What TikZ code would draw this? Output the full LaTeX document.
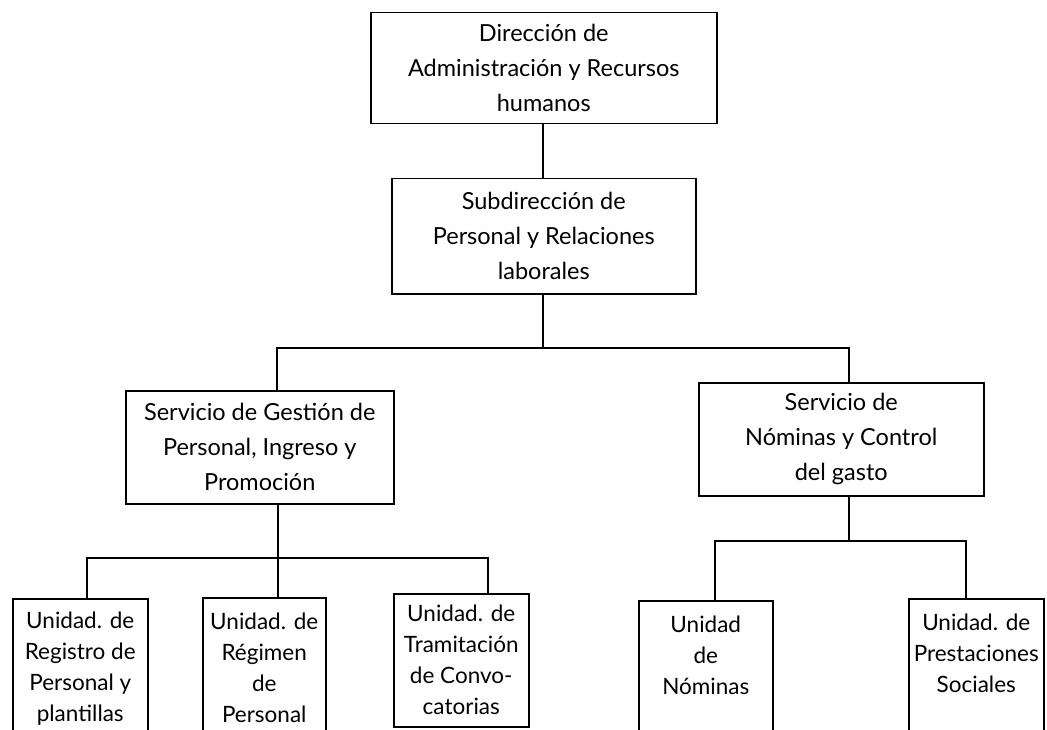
\documentclass[tikz,border=0pt]{standalone}
\usepackage{fontspec}
\setmainfont{Lato}
\usetikzlibrary{calc}

\tikzset{caja/.style={draw, line width=1.5pt, anchor=north west, align=center,
    inner sep=0pt, font=\fontsize{23.5}{35}\selectfont},
  cajab/.style={caja, minimum height=140pt, font=\fontsize{22.5}{31}\selectfont}}

\begin{document}
\begin{tikzpicture}[x=1pt,y=-1pt,line width=1.5pt]
\useasboundingbox (0,0) rectangle (1047,730);
\clip (0,0) rectangle (1047,730);
% cajas
\node[caja,minimum width=346pt,minimum height=111pt] (dir) at (370,12) {Dirección de\\Administración y Recursos\\humanos};
\node[caja,minimum width=304pt,minimum height=115pt] (sub) at (391,178) {Subdirección de\\Personal y Relaciones\\laborales};
\node[caja,minimum width=268pt,minimum height=113pt] (gest) at (125,390) {Servicio de Gestión de\\Personal, Ingreso y\\Promoción};
\node[caja,minimum width=285pt,minimum height=113pt] (serv) at (698,382) {Servicio de\\Nóminas y Control\\del gasto};
\node[cajab,minimum width=135pt] (u1) at (12,598) {Unidad. de\\Registro de\\Personal y\\plantillas};
\node[cajab,minimum width=123pt] (u2) at (202,597) {Unidad. de\\Régimen\\de\\Personal};
\node[cajab,minimum width=135pt,minimum height=133pt] (u3) at (393,593) {Unidad. de\\Tramitación\\de Convo-\\catorias};
\node[cajab,minimum width=134pt] (u4) at (638,600) {Unidad\\de\\Nóminas\\\mbox{}};
\node[cajab,minimum width=135pt] (u5) at (908,598) {Unidad. de\\Prestaciones\\Sociales\\\mbox{}};
% uniones
\coordinate (j1) at (543,348);
\coordinate (ba) at (277,348);
\coordinate (bb) at (849,348);
\coordinate (j2) at (278,558);
\coordinate (ca) at (87,558);
\coordinate (cb) at (488,558);
\coordinate (j3) at (849,541);
\coordinate (da) at (715,541);
\coordinate (db) at (966,541);
\draw (dir.south -| j1) -- (sub.north -| j1);
\draw (sub.south -| j1) -- (j1);
\draw (gest.north -| ba) |- (bb) -- (serv.north -| bb);
\draw (gest.south -| j2) -- (j2);
\draw (u1.north -| ca) |- (cb) -- (u3.north -| cb);
\draw (u2.north -| j2) -- (j2);
\draw (serv.south -| j3) -- (j3);
\draw (u4.north -| da) |- (db) -- (u5.north -| db);
\end{tikzpicture}
\end{document}
